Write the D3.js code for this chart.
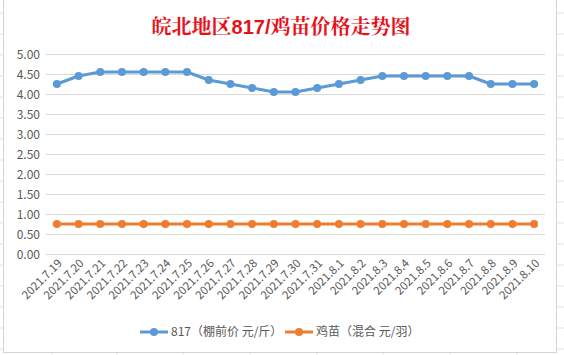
<!DOCTYPE html>
<html><head><meta charset="utf-8">
<script src="https://cdn.jsdelivr.net/npm/d3@7/dist/d3.min.js"></script>
<style>body{margin:0;background:#fff;}svg{display:block;}</style>
</head><body>
<svg id="c" width="564" height="355"></svg>
<script>
const categories = ["2021.7.19","2021.7.20","2021.7.21","2021.7.22","2021.7.23","2021.7.24","2021.7.25","2021.7.26","2021.7.27","2021.7.28","2021.7.29","2021.7.30","2021.7.31","2021.8.1","2021.8.2","2021.8.3","2021.8.4","2021.8.5","2021.8.6","2021.8.7","2021.8.8","2021.8.9","2021.8.10"];
const price817 = [4.25,4.45,4.55,4.55,4.55,4.55,4.55,4.35,4.25,4.15,4.05,4.05,4.15,4.25,4.35,4.45,4.45,4.45,4.45,4.45,4.25,4.25,4.25];
const chickPrice = [0.75,0.75,0.75,0.75,0.75,0.75,0.75,0.75,0.75,0.75,0.75,0.75,0.75,0.75,0.75,0.75,0.75,0.75,0.75,0.75,0.75,0.75,0.75];
const yTicks = [0,0.5,1,1.5,2,2.5,3,3.5,4,4.5,5];
const seriesNames = ["817（棚前价 元/斤）","鸡苗（混合 元/羽）"];
const titleParts = ["皖北地区","817/","鸡苗价格走势图"];

const svg = d3.select("#c");
const W = 564, H = 355;
// spreadsheet background grid
const bg = svg.append("g");
[52,117,183,250,317,383,450,517].forEach(x=>bg.append("line").attr("x1",x).attr("x2",x).attr("y1",0).attr("y2",H).attr("stroke","#e3e3e3"));
[13,34,55,76,97,118,139,160,181,202,223,244,265,286,307,328,349].forEach(y=>bg.append("line").attr("x1",0).attr("x2",W).attr("y1",y).attr("y2",y).attr("stroke","#e3e3e3"));
// chart area
svg.append("rect").attr("x",3.5).attr("y",-1).attr("width",553).attr("height",353.5).attr("fill","#fff").attr("stroke","#d4d4d4");

const font = "'Microsoft YaHei','Noto Sans CJK SC','Noto Sans',sans-serif";
const t = svg.append("text").attr("x",281).attr("y",34).attr("text-anchor","middle")
  .attr("font-family","'Noto Serif CJK SC','Noto Sans CJK SC',serif").attr("font-weight","bold")
  .attr("font-size",20).attr("fill","#e8101a");
titleParts.forEach((p,i)=>{
  const ts = t.append("tspan").text(p);
  if(i===1) ts.attr("font-family","'Liberation Sans',Arial,sans-serif");
});

const x = d3.scaleBand().domain(categories).range([46,545]);
const y = d3.scaleLinear().domain([0,5]).range([254,54]);

const g = svg.append("g");
g.selectAll("line.grid").data(yTicks).join("line").attr("class","grid")
  .attr("x1",46).attr("x2",545).attr("y1",d=>Math.round(y(d))+0.5).attr("y2",d=>Math.round(y(d))+0.5)
  .attr("stroke","#d9d9d9").attr("stroke-width",1);

const yAxis = d3.axisLeft(y).tickValues(yTicks).tickFormat(d3.format(".2f")).tickSize(0).tickPadding(0);
const ya = svg.append("g").attr("transform","translate(40,0)").call(yAxis);
ya.select(".domain").remove();
ya.selectAll("text").attr("font-family",font).attr("font-size",12).attr("fill","#595959").attr("dy","0.35em");

const xAxis = d3.axisBottom(x).tickSize(0).tickPadding(0);
const xa = svg.append("g").attr("transform","translate(0,256)").call(xAxis);
xa.select(".domain").remove();
xa.selectAll("text").attr("font-family",font).attr("font-size",11.5).attr("fill","#595959")
  .attr("text-anchor","end").attr("dy",0).attr("transform","translate(6,8) rotate(-45)");

const colors = ["#5b9bd5","#ed7d31"];
const cx = d=>x(d)+x.bandwidth()/2;
[price817, chickPrice].forEach((vals,i)=>{
  const line = d3.line().x((d,j)=>cx(categories[j])).y(d=>y(d));
  svg.append("path").datum(vals).attr("d",line).attr("fill","none").attr("stroke",colors[i]).attr("stroke-width",3).attr("stroke-linejoin","round");
  svg.append("g").selectAll("circle").data(vals).join("circle")
    .attr("cx",(d,j)=>cx(categories[j])).attr("cy",d=>y(d)).attr("r",4).attr("fill",colors[i]);
});

// legend
const legX = [140,285];
seriesNames.forEach((n,i)=>{
  const lg = svg.append("g").attr("transform",`translate(${legX[i]},332)`);
  lg.append("line").attr("x1",0).attr("x2",28).attr("stroke",colors[i]).attr("stroke-width",3);
  lg.append("circle").attr("cx",14).attr("r",4).attr("fill",colors[i]);
  lg.append("text").attr("x",31).attr("dy","0.35em").attr("font-family",font).attr("font-size",12).attr("fill","#595959").text(n);
});
</script>
</body></html>
